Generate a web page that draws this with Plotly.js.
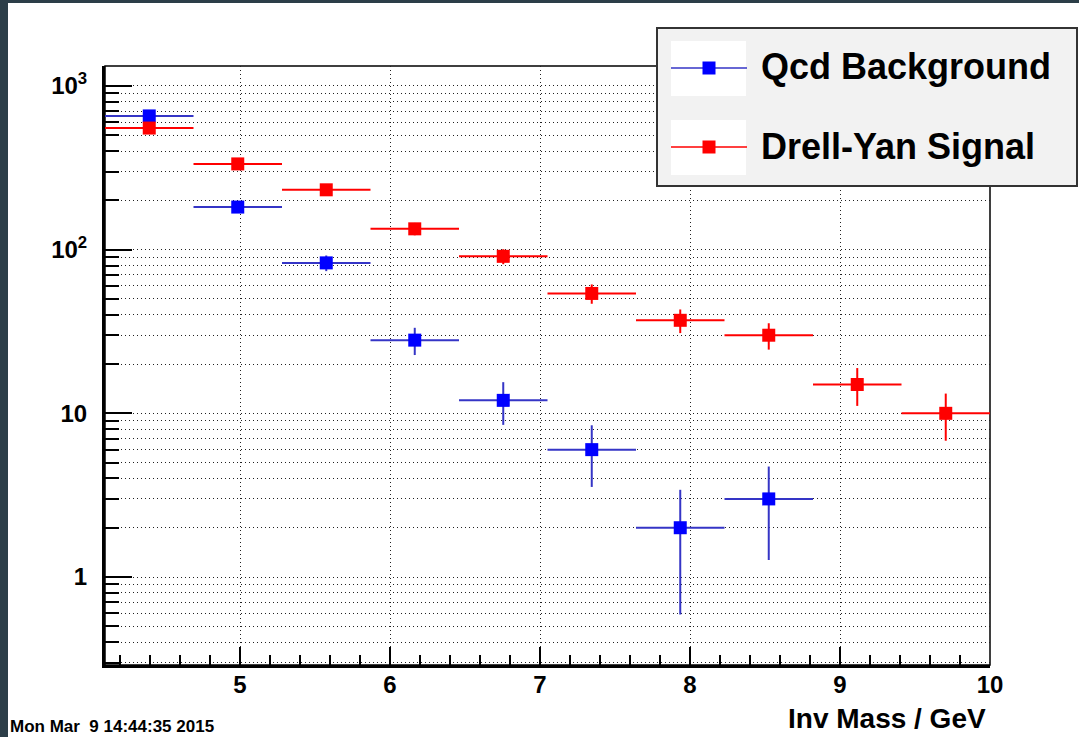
<!DOCTYPE html>
<html><head><meta charset="utf-8">
<script src="https://cdn.plot.ly/plotly-3.0.1.min.js"></script>
<style>
html,body{margin:0;padding:0;background:#2c3e48;width:1079px;height:737px;overflow:hidden}
#chart{position:absolute;left:8px;top:3px;width:1071px;height:734px;background:#fff}
</style></head><body><div id="chart"></div>
<script>
// ---- data ----
const massBins = [4.395, 4.985, 5.575, 6.165, 6.755, 7.345, 7.935, 8.525, 9.115, 9.705];
const binHalfWidth = [0.295, 0.295, 0.295, 0.295, 0.295, 0.295, 0.295, 0.295, 0.295, 0.295];
const qcdValues = [656, 182, 83, 28, 12, 6, 2, 3];
const qcdErrors = [25.6, 13.5, 9.1, 5.3, 3.5, 2.45, 1.41, 1.73];
const dyValues = [553, 334, 232, 134, 91, 54, 37, 30, 15, 10];
const dyErrors = [23.5, 18.3, 15.2, 11.6, 9.5, 7.3, 6.1, 5.5, 3.9, 3.2];
const seriesNames = ["Qcd Background", "Drell-Yan Signal"];
const xTickVals = [5, 6, 7, 8, 9, 10];
const yTickVals = [1, 10, 100, 1000];
const yTickText = ["1", "10", "10<sup>2</sup>", "10<sup>3</sup>"];
const yMinorVals = [0.3, 0.4, 0.5, 0.6, 0.7, 0.8, 0.9, 2, 3, 4, 5, 6, 7, 8, 9,
                    20, 30, 40, 50, 60, 70, 80, 90, 200, 300, 400, 500, 600, 700, 800, 900];
const xTitle = "Inv Mass / GeV";
const dateStamp = "Mon Mar\u00a0 9 14:44:35 2015";

// ---- page geometry helpers (page px -> paper fraction) ----
const PL = 105, PR = 990, PT = 66, PB = 665;
const fx = px => (px - PL) / (PR - PL);
const fy = py => (PB - py) / (PB - PT);

const FONT = "Liberation Sans, Arial, Helvetica, sans-serif";
const BLUE = "#0000ff", BLUE_LINE = "#3535c6", RED = "#ff0000";
const GRID = "#222222", GRIDDASH = "1px,3px";

const mkTrace = (name, n, vals, errs, mcol, lcol) => ({
  type: "scatter", mode: "markers", name: name,
  x: massBins.slice(0, n), y: vals,
  marker: {symbol: "square", size: 13, color: mcol, line: {width: 0}},
  error_x: {type: "data", array: binHalfWidth.slice(0, n), symmetric: true, color: lcol, thickness: 2, width: 0},
  error_y: {type: "data", array: errs, symmetric: true, color: lcol, thickness: 2, width: 0},
  cliponaxis: true, hoverinfo: "skip"
});

const traces = [
  mkTrace(seriesNames[0], qcdValues.length, qcdValues, qcdErrors, BLUE, BLUE_LINE),
  mkTrace(seriesNames[1], dyValues.length, dyValues, dyErrors, RED, RED)
];

const shapes = [
  {type: "rect", xref: "paper", yref: "paper", x0: 0, x1: 1, y0: 0, y1: 1, line: {color: "#000", width: 1.5}, layer: "below"},
  // legend box
  {type: "rect", xref: "paper", yref: "paper", x0: fx(657), x1: fx(1077), y0: fy(186), y1: fy(28),
   fillcolor: "#f2f2f2", line: {color: "#333", width: 2}, layer: "above"},
  {type: "rect", xref: "paper", yref: "paper", x0: fx(671), x1: fx(746), y0: fy(96), y1: fy(41),
   fillcolor: "#fff", line: {width: 0}, layer: "above"},
  {type: "rect", xref: "paper", yref: "paper", x0: fx(671), x1: fx(746), y0: fy(175), y1: fy(120),
   fillcolor: "#fff", line: {width: 0}, layer: "above"},
  {type: "line", xref: "paper", yref: "paper", x0: fx(671), x1: fx(747), y0: fy(68), y1: fy(68),
   line: {color: BLUE_LINE, width: 1.5}, layer: "above"},
  {type: "line", xref: "paper", yref: "paper", x0: fx(671), x1: fx(747), y0: fy(147), y1: fy(147),
   line: {color: RED, width: 1.5}, layer: "above"},
  {type: "rect", xref: "paper", yref: "paper", x0: fx(702.5), x1: fx(715.5), y0: fy(74.5), y1: fy(61.5),
   fillcolor: BLUE, line: {width: 0}, layer: "above"},
  {type: "rect", xref: "paper", yref: "paper", x0: fx(702.5), x1: fx(715.5), y0: fy(153.5), y1: fy(140.5),
   fillcolor: RED, line: {width: 0}, layer: "above"}
];

const annotations = [
  {xref: "paper", yref: "paper", x: fx(759), y: fy(67), xanchor: "left", yanchor: "middle", showarrow: false,
   text: seriesNames[0], font: {family: FONT, size: 36, color: "#000", weight: 700}},
  {xref: "paper", yref: "paper", x: fx(759), y: fy(146), xanchor: "left", yanchor: "middle", showarrow: false,
   text: seriesNames[1], font: {family: FONT, size: 36, color: "#000", weight: 700}},
  {xref: "paper", yref: "paper", x: fx(988), y: fy(718), xanchor: "right", yanchor: "middle", showarrow: false,
   text: xTitle, font: {family: FONT, size: 28, color: "#000", weight: 700}},
  {xref: "paper", yref: "paper", x: fx(8), y: fy(726), xanchor: "left", yanchor: "middle", showarrow: false,
   text: dateStamp, font: {family: FONT, size: 17, color: "#000", weight: 700}}
];

const layout = {
  width: 1071, height: 734,
  margin: {l: PL - 8, r: 1079 - PR, t: PT - 3, b: 737 - PB, pad: 0},
  paper_bgcolor: "#ffffff", plot_bgcolor: "#ffffff",
  showlegend: false,
  xaxis: {
    range: [4.1, 10.0], tickmode: "array", tickvals: xTickVals,
    ticks: "inside", ticklen: 18, tickwidth: 1.5, tickcolor: "#000",
    showline: true, linewidth: 3, linecolor: "#000", mirror: false,
    showgrid: true, gridcolor: GRID, gridwidth: 1, griddash: GRIDDASH, zeroline: false,
    ticklabelstandoff: -4,
    tickfont: {family: FONT, size: 24, color: "#000", weight: 700},
    minor: {dtick: 0.2, tick0: 0, ticks: "inside", ticklen: 10, tickwidth: 1.5, tickcolor: "#000", showgrid: false}
  },
  yaxis: {
    type: "log", range: [Math.log10(0.29), Math.log10(1324)],
    tickmode: "array", tickvals: yTickVals, ticktext: yTickText,
    ticks: "inside", ticklen: 27, tickwidth: 2, tickcolor: "#000",
    showline: true, linewidth: 3, linecolor: "#000",
    showgrid: true, gridcolor: GRID, gridwidth: 1, griddash: GRIDDASH, zeroline: false,
    ticklabelstandoff: 10,
    tickfont: {family: FONT, size: 24, color: "#000", weight: 700},
    minor: {tickmode: "array", tickvals: yMinorVals, ticks: "inside", ticklen: 14, tickwidth: 2, tickcolor: "#000",
            showgrid: true, gridcolor: GRID, gridwidth: 1, griddash: GRIDDASH}
  },
  shapes: shapes,
  annotations: annotations
};

Plotly.newPlot("chart", traces, layout, {staticPlot: true, displayModeBar: false});
</script></body></html>
